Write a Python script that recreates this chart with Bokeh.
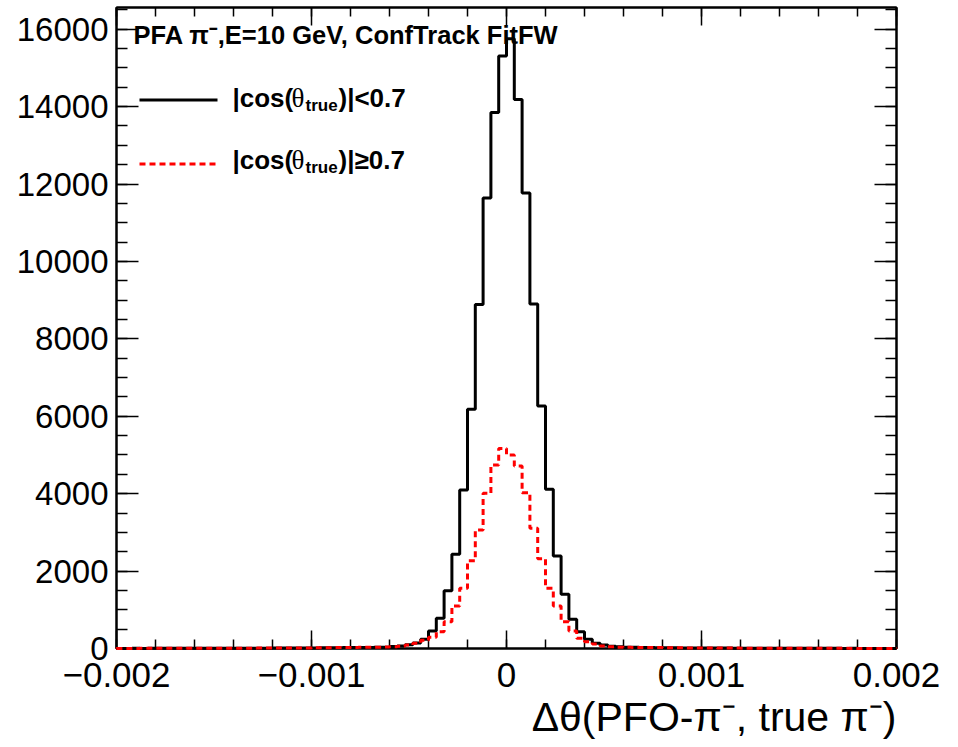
import numpy as np
from bokeh.plotting import figure
from bokeh.models import Range1d, FixedTicker, LinearAxis, Label, Arrow, Title
from bokeh.embed import file_html
from bokeh.resources import INLINE

# ---------------- data ----------------
x_min, x_max = -0.002, 0.002
n_bins = 100

# |cos(theta_true)| < 0.7  (black, solid)
black_counts = [
    3, 3, 4, 3, 4, 4, 5, 4, 5, 5,
    6, 5, 6, 6, 7, 7, 8, 8, 9, 9,
    10, 11, 12, 13, 14, 15, 17, 19, 21, 23,
    25, 27, 29, 32, 35, 50, 65, 95, 140, 240,
    452, 780, 1493, 2433, 4094, 6178, 8890, 11640, 13848, 15310,
    15750, 14184, 11770, 8900, 6263, 4111, 2389, 1400, 754, 434,
    238, 134, 90, 60, 45, 35, 30, 27, 24, 22,
    20, 18, 16, 15, 14, 13, 12, 11, 10, 9,
    9, 8, 8, 7, 7, 6, 6, 5, 5, 5,
    4, 4, 4, 3, 4, 3, 3, 3, 3, 3,
]

# |cos(theta_true)| >= 0.7  (red, dashed)
red_counts = [
    3, 3, 3, 4, 4, 4, 5, 5, 5, 6,
    6, 6, 7, 7, 8, 8, 9, 9, 10, 11,
    12, 13, 14, 15, 16, 18, 20, 22, 24, 26,
    28, 30, 32, 35, 38, 45, 60, 90, 134, 210,
    289, 434, 692, 1098, 1555, 2265, 3060, 4008, 4739, 5170,
    4998, 4713, 4024, 3104, 2320, 1555, 1098, 692, 450, 263,
    176, 116, 65, 45, 35, 32, 29, 27, 25, 23,
    21, 19, 17, 16, 15, 14, 13, 12, 11, 10,
    9, 9, 8, 8, 7, 7, 6, 6, 5, 5,
    5, 4, 4, 4, 3, 3, 3, 3, 3, 3,
]

x_tick_values = [-0.002, -0.001, 0, 0.001, 0.002]
x_tick_labels = ["\u22120.002", "\u22120.001", "0", "0.001", "0.002"]
y_tick_values = [0, 2000, 4000, 6000, 8000, 10000, 12000, 14000, 16000]
y_max = 16560

title_text = "PFA  \u03c0\u207b,E=10 GeV, ConfTrack FitFW"
x_title = "\u0394\u03b8(PFO-\u03c0\u207b, true \u03c0\u207b)"

# ---------------- layout constants ----------------
W, H = 958, 747
LEFT, RIGHT, TOP, BOTTOM = 116, 62, 7, 99
FRAME_BOTTOM = H - BOTTOM
TEXT_SHIFT = 9  # compensation of label baseline placement

def sx(px):
    return px - LEFT

def sy(py):
    return FRAME_BOTTOM - py

FONT = "Liberation Sans"
SERIF = "Liberation Serif"

p = figure(width=W, height=H, output_backend="svg", toolbar_location=None,
           x_range=Range1d(x_min, x_max), y_range=Range1d(0, y_max),
           min_border_left=LEFT, min_border_right=RIGHT,
           min_border_top=TOP, min_border_bottom=BOTTOM)
p.grid.visible = False
p.outline_line_color = "black"
p.outline_line_width = 2
p.background_fill_color = "white"
p.border_fill_color = "white"

# ---------------- histograms ----------------
edges = np.linspace(x_min, x_max, n_bins + 1)

def step_xy(counts):
    xs = [edges[0]]
    ys = [0]
    for i, c in enumerate(counts):
        xs += [edges[i], edges[i + 1]]
        ys += [c, c]
    xs.append(edges[-1])
    ys.append(0)
    return xs, ys

bx, by = step_xy(black_counts)
rx, ry = step_xy(red_counts)
p.line(bx, by, line_color="black", line_width=3, level="overlay")
p.line(rx, ry, line_color="red", line_width=3, line_dash="6 4", level="overlay")

# ---------------- axes ----------------
x_minor = [round(-0.002 + 0.0002 * i, 6) for i in range(21)]
y_minor = list(range(0, 16501, 500))

xt = FixedTicker(ticks=x_tick_values, minor_ticks=x_minor)
yt = FixedTicker(ticks=y_tick_values, minor_ticks=y_minor)

def style_axis(ax, show_labels, major_len, minor_len, size):
    ax.axis_line_color = "black"
    ax.axis_line_width = 2
    ax.major_tick_in = major_len
    ax.major_tick_out = 0
    ax.minor_tick_in = minor_len
    ax.minor_tick_out = 0
    ax.major_tick_line_color = "black"
    ax.minor_tick_line_color = "black"
    ax.major_tick_line_width = 1.5
    ax.minor_tick_line_width = 1.5
    ax.major_label_text_font = FONT
    ax.major_label_text_font_size = size
    ax.major_label_text_color = "black" if show_labels else None

xa = p.xaxis[0]
xa.ticker = xt
xa.major_label_overrides = {v: l for v, l in zip(x_tick_values, x_tick_labels)}
xa.major_label_standoff = 14
style_axis(xa, True, 18, 9, "35px")

ya = p.yaxis[0]
ya.ticker = yt
ya.major_label_standoff = 8
style_axis(ya, True, 22, 11, "33px")

top_ax = LinearAxis(ticker=FixedTicker(ticks=x_tick_values, minor_ticks=x_minor))
style_axis(top_ax, False, 18, 9, "0px")
p.add_layout(top_ax, "above")

right_ax = LinearAxis(ticker=FixedTicker(ticks=y_tick_values, minor_ticks=y_minor))
style_axis(right_ax, False, 22, 11, "0px")
p.add_layout(right_ax, "right")

# x-axis title, right aligned below the axis
p.add_layout(Title(text=x_title, align="right", text_font=FONT, text_font_size="41px",
                   text_font_style="normal", text_color="black", standoff=4), "below")

# ---------------- texts ----------------
def lab(text, px, py, size, bold=False, align="left", font=FONT):
    p.add_layout(Label(x=sx(px), y=sy(py - TEXT_SHIFT), x_units="screen", y_units="screen",
                       text=text, text_font=font, text_font_size=f"{size}px",
                       text_font_style="bold" if bold else "normal",
                       text_align=align, text_baseline="alphabetic",
                       text_color="black"))

lab(title_text, 133, 43, 25.5, bold=True)

# legend samples
for py, color, dash in [(99.5, "black", "solid"), (163.5, "red", "6 4")]:
    p.add_layout(Arrow(end=None, x_start=sx(139), y_start=sy(py), x_end=sx(217), y_end=sy(py),
                       start_units="screen", end_units="screen",
                       line_color=color, line_width=3, line_dash=dash))

for base, tail in [(106, ")|<0.7"), (168.5, ")|\u22650.7")]:
    lab("|cos(", 232, base, 26, bold=True)
    lab("\u03b8", 291, base, 27, font=SERIF)
    lab("true", 305, base + 7.5, 17, bold=True)
    lab(tail, 338, base, 26, bold=True)

open("out.html", "w").write(file_html(p, INLINE))
